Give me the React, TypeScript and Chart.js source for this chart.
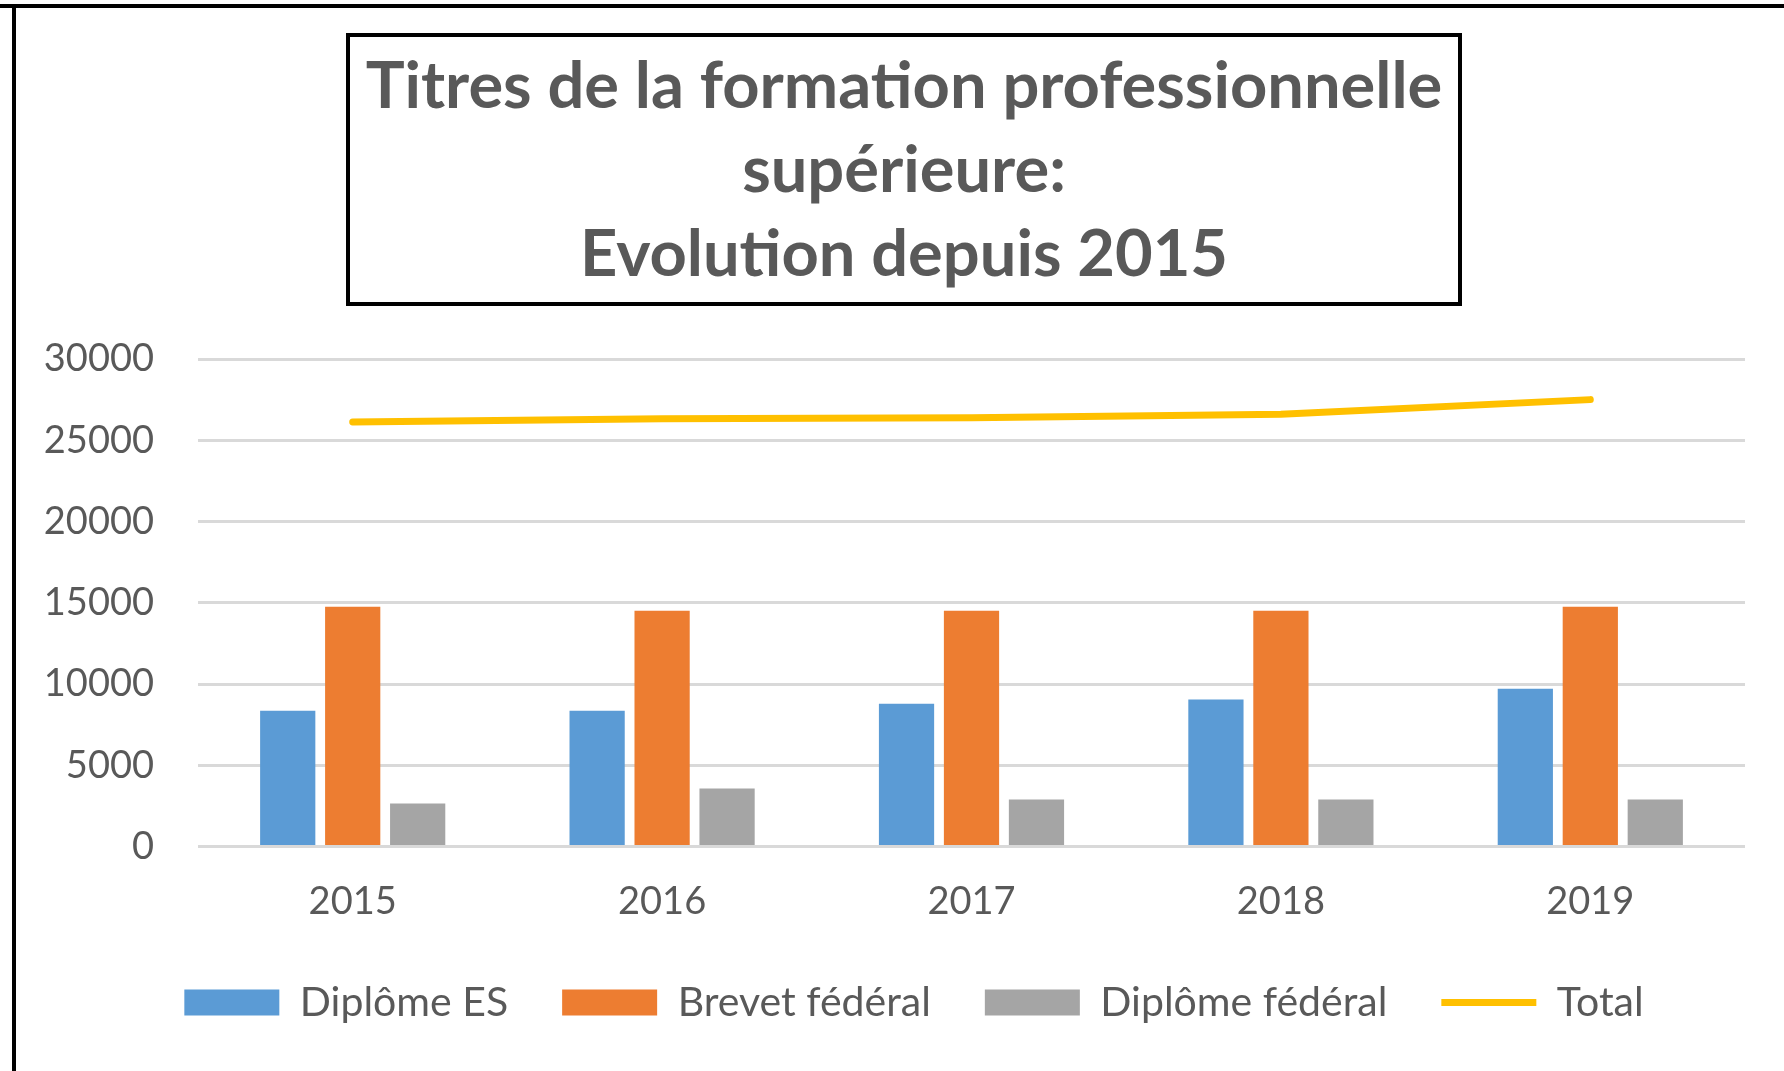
import React, { useEffect, useRef } from "react";
import { Chart, registerables } from "chart.js";

Chart.register(...registerables);

const years = ["2015", "2016", "2017", "2018", "2019"];
const diplomeES = [8360, 8360, 8790, 9040, 9710];
const brevetFederal = [14750, 14510, 14510, 14510, 14750];
const diplomeFederal = [2640, 3570, 2890, 2890, 2890];
const total = [26130, 26320, 26390, 26600, 27500];
const titleLines = [
  "Titres de la formation professionnelle",
  "supérieure:",
  "Evolution depuis 2015",
];

const TEXT = "#595959";
const FONT = "Lato, 'Open Sans', sans-serif";
const LEGEND_PAD = 54;
const LEGEND_FONT = 41;

const titleBoxPlugin = {
  id: "titleBox",
  afterLayout(chart: any) {
    // let the y tick labels extend past the layout padding without being clipped
    const y = chart.scales.y;
    if (y) y.left = 0;
    // nudge the legend block slightly to the right, as in the original
    const lg = chart.legend;
    if (lg) {
      lg.left += 10;
      lg.right += 10;
    }
  },
  afterDraw(chart: any) {
    const tb = chart.titleBlock;
    if (!tb) return;
    const ctx = chart.ctx;
    const cx = tb.left + tb.width / 2;
    const halfW = 556;
    ctx.save();
    ctx.strokeStyle = "#000";
    ctx.lineWidth = 4;
    ctx.strokeRect(cx - halfW, tb.top + 35, halfW * 2, 269);
    ctx.restore();
  },
};

export default function App() {
  const ref = useRef<HTMLCanvasElement | null>(null);
  useEffect(() => {
    if (!ref.current) return;
    const barOpts = { pointStyle: "rect", categoryPercentage: 0.63, barPercentage: 0.85 };
    const chart = new Chart(ref.current, {
      type: "bar",
      data: {
        labels: years,
        datasets: [
          { label: "Diplôme ES", data: diplomeES, backgroundColor: "#5B9BD5", ...barOpts } as any,
          { label: "Brevet fédéral", data: brevetFederal, backgroundColor: "#ED7D31", ...barOpts },
          { label: "Diplôme fédéral", data: diplomeFederal, backgroundColor: "#A5A5A5", ...barOpts },
          {
            type: "line",
            label: "Total",
            data: total,
            borderColor: "#FFC000",
            backgroundColor: "#FFC000",
            borderWidth: 7,
            borderCapStyle: "round",
            pointRadius: 0,
            pointStyle: "line",
            tension: 0,
          },
        ],
      },
      options: {
        responsive: false,
        animation: false,
        layout: { padding: { left: 63, right: 39, top: 0, bottom: 38 } },
        scales: {
          x: {
            grid: { display: false },
            border: { display: false },
            ticks: { color: TEXT, font: { family: FONT, size: 38 }, padding: 24 },
            afterFit: (s: any) => {
              s.height = 135.5 - LEGEND_PAD;
            },
          },
          y: {
            min: 0,
            max: 30000,
            grid: { color: "#D9D9D9", lineWidth: 3, drawTicks: false },
            border: { display: false },
            ticks: {
              stepSize: 5000,
              color: TEXT,
              font: { family: FONT, size: 38 },
              padding: 44,
              callback: (v: any) => String(v),
            },
            afterFit: (s: any) => {
              s.width = 135;
            },
          },
        },
        plugins: {
          title: {
            display: true,
            text: titleLines,
            color: TEXT,
            font: { family: FONT, size: 65, weight: "bold", lineHeight: 84 / 65 },
            padding: { top: 45, bottom: 62 },
          },
          legend: {
            position: "bottom",
            labels: {
              usePointStyle: true,
              pointStyleWidth: 95,
              boxHeight: 26,
              padding: LEGEND_PAD,
              color: TEXT,
              font: { family: FONT, size: LEGEND_FONT },
            },
          },
          tooltip: { enabled: false },
        },
      } as any,
      plugins: [titleBoxPlugin],
    });
    return () => chart.destroy();
  }, []);

  return (
    <div
      style={{
        position: "fixed",
        left: 0,
        top: 0,
        width: 1784,
        height: 1071,
        overflow: "hidden",
        background: "#fff",
      }}
    >
      <canvas ref={ref} width={1784} height={1071} style={{ position: "absolute", left: 0, top: 0 }} />
      <div style={{ position: "absolute", left: 0, top: 4, width: 1784, height: 4, background: "#000" }} />
      <div style={{ position: "absolute", left: 12, top: 4, width: 4, height: 1067, background: "#000" }} />
    </div>
  );
}
